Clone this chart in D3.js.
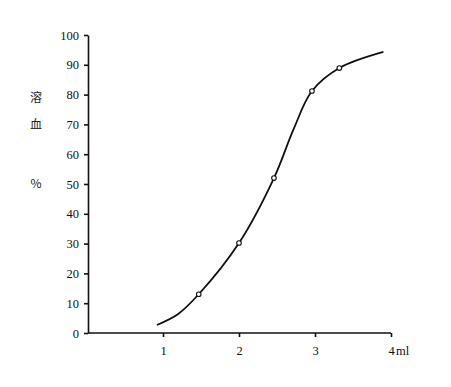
<!DOCTYPE html>
<html>
<head>
<meta charset="utf-8">
<script src="https://cdn.jsdelivr.net/npm/d3@7"></script>
<style>
  body { margin: 0; background: #fff; }
  svg { display: block; }
  .axis path, .axis line { stroke: #111; stroke-width: 1.6; }
</style>
</head>
<body>
<svg width="451" height="387"></svg>
<script>
// measured points (open circles)
const pointsX = [1.47, 2.0, 2.46, 2.96, 3.32];
const pointsY = [13, 30.2, 52, 81.2, 88.9];
// fitted curve
const curveX = [0.92, 1.2, 1.47, 2.0, 2.46, 2.72, 2.96, 3.32, 3.9];
const curveY = [2.7, 6.4, 13, 30.2, 52, 68.5, 81.2, 88.9, 94.3];
const xTicks = [1, 2, 3, 4];
const yTicks = [0, 10, 20, 30, 40, 50, 60, 70, 80, 90, 100];
const yLabel = ["溶", "血", "%"];
const xUnit = "ml";

(function() {
    const svg = d3.select("svg");
    const tickFont = "12.5px 'Liberation Serif', 'DejaVu Serif', serif";

    const x = d3.scaleLinear().domain([0, 4]).range([87, 391]);
    const y = d3.scaleLinear().domain([0, 100]).range([333, 35]);

    // y axis
    const ya = svg.append("g")
        .attr("class", "axis")
        .attr("transform", "translate(88,0)")
        .call(d3.axisLeft(y).tickValues(yTicks).tickFormat(d3.format("d"))
            .tickSize(4).tickPadding(5).tickSizeOuter(0));
    ya.selectAll("text").style("font", tickFont).style("fill", "#111");

    // x axis
    const xa = svg.append("g")
        .attr("class", "axis")
        .attr("transform", "translate(0,333)")
        .call(d3.axisBottom(x).tickValues(xTicks).tickFormat(d3.format("d"))
            .tickSize(4).tickPadding(9).tickSizeOuter(0));
    xa.select(".domain").attr("d", `M88,0H${x(4)}`);
    xa.selectAll("text").style("font", tickFont).style("fill", "#111");

    xa.append("text")
        .attr("x", x(4) + 5)
        .attr("y", 13)
        .attr("dy", "0.71em")
        .attr("text-anchor", "start")
        .style("font", tickFont)
        .style("fill", "#111")
        .text(xUnit);

    // y label, stacked characters
    svg.selectAll(".ylab")
        .data(yLabel)
        .enter().append("text")
        .attr("class", "ylab")
        .attr("x", 36)
        .attr("y", (d, i) => y([79, 70, 50][i]))
        .attr("dy", "0.35em")
        .attr("text-anchor", "middle")
        .style("font", "12px 'Noto Sans CJK SC', serif")
        .style("fill", "#222")
        .text(d => d);

    const line = d3.line()
        .x(d => x(d[0]))
        .y(d => y(d[1]))
        .curve(d3.curveCatmullRom.alpha(0.5));

    svg.append("path")
        .attr("d", line(curveX.map((v, i) => [v, curveY[i]])))
        .attr("fill", "none")
        .attr("stroke", "#111")
        .attr("stroke-width", 1.8);

    svg.selectAll(".pt")
        .data(pointsX.map((v, i) => [v, pointsY[i]]))
        .enter().append("circle")
        .attr("class", "pt")
        .attr("cx", d => x(d[0]))
        .attr("cy", d => y(d[1]))
        .attr("r", 2.3)
        .attr("fill", "#fff")
        .attr("stroke", "#111")
        .attr("stroke-width", 1.1);
})();
</script>
</body>
</html>
